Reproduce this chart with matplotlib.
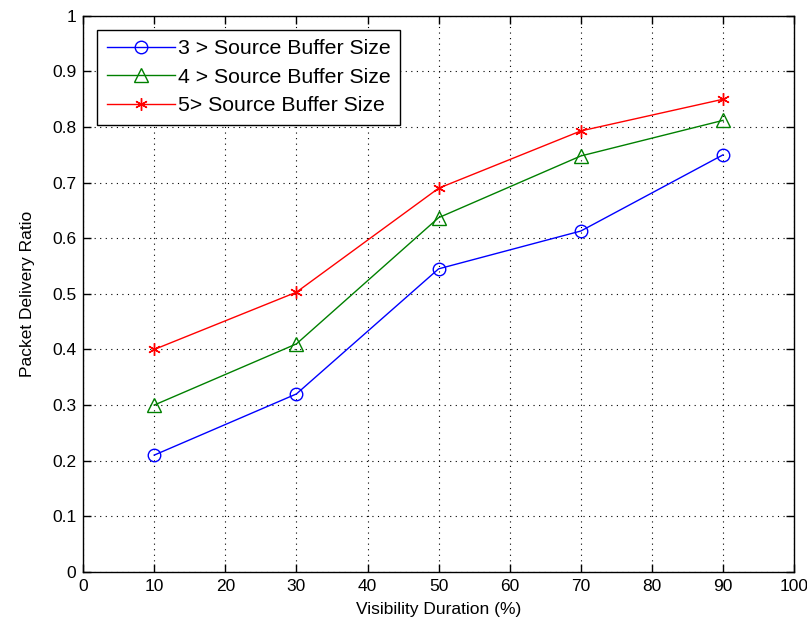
import numpy as np
import matplotlib
matplotlib.use('Agg')
import matplotlib.pyplot as plt

# Values
visibility = [10, 30, 50, 70, 90]
buffer3 = [0.21, 0.32, 0.545, 0.613, 0.75]
buffer4 = [0.30, 0.41, 0.637, 0.748, 0.812]
buffer5 = [0.40, 0.503, 0.69, 0.793, 0.85]
labels = ['3 > Source Buffer Size', '4 > Source Buffer Size', '5> Source Buffer Size']

plt.rcParams['font.family'] = ['Liberation Sans', 'DejaVu Sans']
plt.rcParams['font.size'] = 12.5

fig = plt.figure(figsize=(8.07, 6.34), dpi=100)
ax = fig.add_axes([0.103, 0.098, 0.881, 0.877])

ax.plot(visibility, buffer3, color='blue', marker='o', markersize=9,
        markerfacecolor='none', markeredgewidth=1.0, linewidth=1.0, label=labels[0])
ax.plot(visibility, buffer4, color=(0, 0.5, 0), marker='^', markersize=10,
        markerfacecolor='none', markeredgewidth=1.0, linewidth=1.0, label=labels[1])
ax.plot(visibility, buffer5, color='red', marker=(6, 2, 0), markersize=9,
        markeredgewidth=1.0, linewidth=1.0, label=labels[2])

ax.set_xlim(0, 100)
ax.set_ylim(0, 1)
ax.set_xticks(np.arange(0, 101, 10))
ax.set_yticks(np.arange(0, 1.01, 0.1))
ax.set_yticklabels(['0', '0.1', '0.2', '0.3', '0.4', '0.5', '0.6', '0.7', '0.8', '0.9', '1'])
ax.tick_params(direction='in', top=True, right=True, length=6, width=1, pad=5)
ax.grid(True, linestyle=(0, (1, 4)), color='black', linewidth=0.8)
for s in ax.spines.values():
    s.set_linewidth(1.0)

ax.set_xlabel('Visibility Duration (%)', labelpad=6)
ax.set_ylabel('Packet Delivery Ratio', labelpad=12)

leg = ax.legend(loc='upper left', bbox_to_anchor=(0.02, 0.975), fancybox=False,
                edgecolor='black', framealpha=1, borderaxespad=0, handlelength=3.2,
                handletextpad=0.15, borderpad=0.45, labelspacing=0.45, fontsize=15.3)
leg.get_frame().set_linewidth(1.0)

fig.savefig('out.png', dpi=100)
